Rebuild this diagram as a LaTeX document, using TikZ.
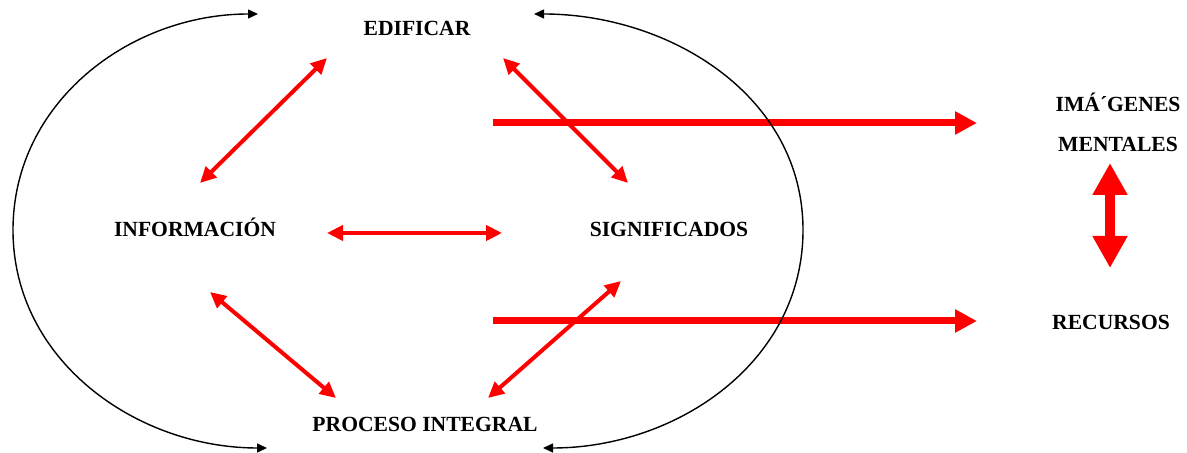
\documentclass[tikz,border=0pt]{standalone}
\usepackage{fontspec}
\setmainfont{Liberation Serif}
\usetikzlibrary{arrows.meta,positioning}

\begin{document}
\begin{tikzpicture}[x=0.5pt,y=0.5pt,
                    word node/.style={font=\bfseries\fontsize{10.8}{13}\selectfont,anchor=base,inner sep=0pt},
                    red link/.style={red,line width=2pt,{Triangle[length=8pt,width=7.5pt]}-{Triangle[length=8pt,width=7.5pt]}},
                    red flow/.style={red,line width=3.5pt,-{Triangle[length=11pt,width=11pt]}},
                    red swap/.style={red,line width=5pt,{Triangle[length=16pt,width=16.5pt]}-{Triangle[length=16pt,width=16.5pt]}},
                    black arc/.style={black,line width=0.7pt,{Triangle[length=5pt,width=4.5pt]}-{Triangle[length=5pt,width=4.5pt]}}]
  \useasboundingbox (0,0) rectangle (1187,-453);

  %Words%
  \node[word node] (edificar) at (417,-36) {EDIFICAR};
  \node[word node] (informacion) at (195,-237) {INFORMACIÓN};
  \node[word node] (significados) at (669,-237) {SIGNIFICADOS};
  \node[word node] (proceso) at (425,-431) {PROCESO INTEGRAL};
  \node[word node] (imagenes) at (1118,-112) {IMÁ´GENES};
  \node[word node] (mentales) at (1118,-152) {MENTALES};
  \node[word node] (recursos) at (1111,-330) {RECURSOS};

  %Arrow ends%
  \coordinate (ei) at (327,-58);
  \coordinate (ie) at (200,-183);
  \coordinate (es) at (503,-58);
  \coordinate (se) at (628,-183);
  \coordinate (is) at (327,-233);
  \coordinate (si) at (502,-233);
  \coordinate (ip) at (210,-292);
  \coordinate (pi) at (336,-398);
  \coordinate (sp) at (621,-281);
  \coordinate (ps) at (488,-398);
  \coordinate (f1) at (493,-123);
  \coordinate (f2) at (977,-123);
  \coordinate (g1) at (493,-321);
  \coordinate (g2) at (977,-321);
  \coordinate (m1) at (1110,-163);
  \coordinate (m2) at (1110,-268);
  \coordinate (lt) at (258,-14);
  \coordinate (lw) at (13,-230);
  \coordinate (lb) at (267,-448);
  \coordinate (rt) at (534,-14);
  \coordinate (re) at (803,-230);
  \coordinate (rb) at (543,-448);

  %Red arrows%
  \path
    (ei) edge[red link] (ie)
    (es) edge[red link] (se)
    (is) edge[red link] (si)
    (ip) edge[red link] (pi)
    (sp) edge[red link] (ps)
    (f1) edge[red flow] (f2)
    (g1) edge[red flow] (g2)
    (m1) edge[red swap] (m2);

  %Cycle%
  \draw[black arc] (lt) to[out=180,in=90] (lw) to[out=-90,in=180] (lb);
  \draw[black arc] (rt) to[out=0,in=90] (re) to[out=-90,in=0] (rb);
\end{tikzpicture}
\end{document}
